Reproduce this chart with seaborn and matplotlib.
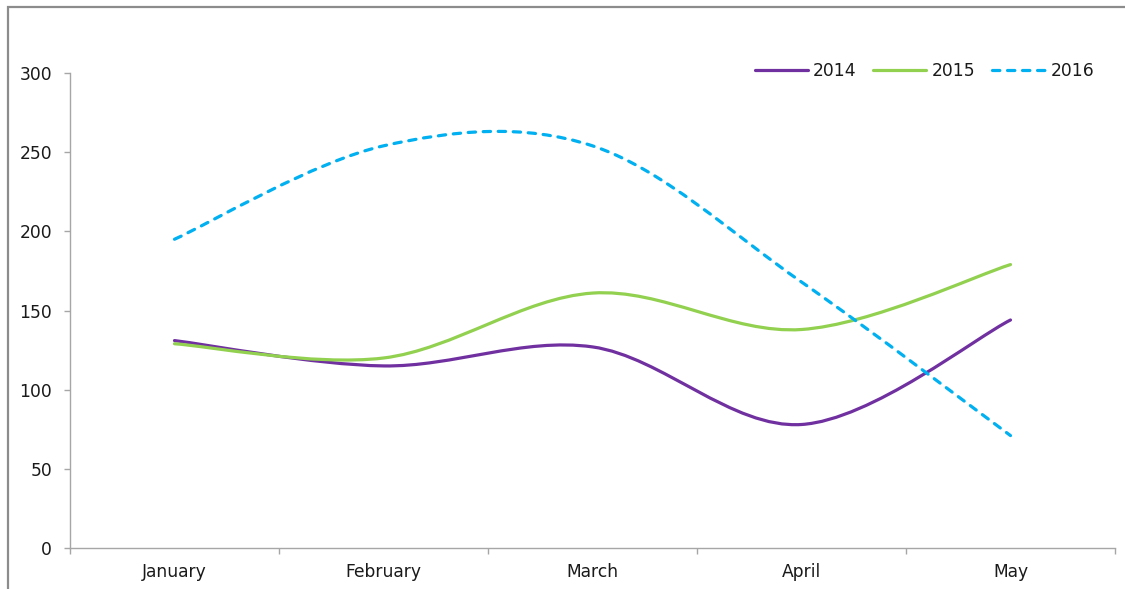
import matplotlib
matplotlib.use("Agg")
import matplotlib.pyplot as plt
from matplotlib.path import Path
from matplotlib.patches import PathPatch, Rectangle
from matplotlib.lines import Line2D
import seaborn as sns
import pandas as pd
import numpy as np

# ---- data ----
months = ["January", "February", "March", "April", "May"]
series_names = ["2014", "2015", "2016"]
values_2014 = [131, 115, 127, 78, 144]
values_2015 = [129, 120, 161, 138, 179]
values_2016 = [195, 254, 254, 168, 71]
y_ticks = [0, 50, 100, 150, 200, 250, 300]

colors = {"2014": "#7030A0", "2015": "#92D050", "2016": "#00B0F0"}

df = pd.DataFrame({
    "month": months * 3,
    "year": sum([[s] * len(months) for s in series_names], []),
    "value": values_2014 + values_2015 + values_2016,
})
df["pos"] = df["month"].map({m: i for i, m in enumerate(months)})

sns.set_theme(style="white")
plt.rcParams["font.family"] = ["DejaVu Sans"]

fig = plt.figure(figsize=(11.25, 5.89), dpi=100)
ax = fig.add_axes([70 / 1125, 1 - 548 / 589, (1115 - 70) / 1125, (548 - 73) / 589])

# seaborn draws the series on the axes' scales
sns.lineplot(data=df, x="pos", y="value", hue="year", palette=colors,
             legend=False, ax=ax, sort=False)

LW = 2.3
styles = {"2014": "-", "2015": "-", "2016": (0, (2.3, 2.4))}


def smooth_path(x, y):
    """Excel-like smoothed line: cubic Bezier segments between data points."""
    x = np.asarray(x, float)
    y = np.asarray(y, float)
    n = len(x)
    verts = [(x[0], y[0])]
    codes = [Path.MOVETO]
    for i in range(n - 1):
        p0 = np.array([x[max(i - 1, 0)], y[max(i - 1, 0)]])
        p1 = np.array([x[i], y[i]])
        p2 = np.array([x[i + 1], y[i + 1]])
        p3 = np.array([x[min(i + 2, n - 1)], y[min(i + 2, n - 1)]])
        c1 = p1 + (p2 - p0) / 6.0
        c2 = p2 - (p3 - p1) / 6.0
        verts += [tuple(c1), tuple(c2), tuple(p2)]
        codes += [Path.CURVE4] * 3
    return Path(verts, codes)


# replace the straight seaborn segments with smoothed curves built from the same data
for line in list(ax.lines):
    line.set_visible(False)
for name in series_names:
    sub = df[df["year"] == name]
    patch = PathPatch(smooth_path(sub["pos"], sub["value"]), fill=False,
                      edgecolor=colors[name], linewidth=LW,
                      linestyle=styles[name], capstyle="round", joinstyle="round")
    ax.add_patch(patch)

# axes styling
ax.set_xlim(-0.5, len(months) - 0.5)
ax.set_ylim(0, 300)
ax.set_yticks(y_ticks)
ax.set_yticklabels([str(t) for t in y_ticks])
ax.set_xticks(range(len(months)))
ax.set_xticklabels(months)
ax.set_xticks(np.arange(-0.5, len(months), 1.0), minor=True)
ax.set_xlabel("")
ax.set_ylabel("")

axis_color = "#A6A6A6"
for side in ["top", "right"]:
    ax.spines[side].set_visible(False)
for side in ["left", "bottom"]:
    ax.spines[side].set_color(axis_color)
    ax.spines[side].set_linewidth(1.0)

ax.tick_params(axis="x", which="major", length=0, pad=11, labelsize=12.3,
               labelcolor="#1a1a1a")
ax.tick_params(axis="x", which="minor", length=4, width=1.0, color=axis_color,
               direction="out", bottom=True)
ax.tick_params(axis="y", which="major", length=4, width=1.0, color=axis_color,
               direction="out", left=True, pad=9, labelsize=12.3, labelcolor="#1a1a1a")
ax.grid(False)

# legend
handles = [Line2D([0], [0], color=colors[s], lw=LW, linestyle=styles[s],
                  solid_capstyle="round", dash_capstyle="round")
           for s in series_names]
fig.legend(handles, series_names, loc="center right",
           bbox_to_anchor=(1094 / 1125, 1 - 71 / 589), ncol=3, frameon=False,
           fontsize=12.3, handlelength=3.1, handletextpad=0.3, columnspacing=1.0,
           borderpad=0, borderaxespad=0, labelcolor="#1a1a1a")

# chart-area frame (only top/left edges visible in the crop)
fig.add_artist(Rectangle((8 / 1125, -0.2), 1.3, 1.2 - 7 / 589,
                         transform=fig.transFigure, fill=False,
                         edgecolor="#8C8C8C", linewidth=1.6))

fig.savefig("out.png", dpi=100)
